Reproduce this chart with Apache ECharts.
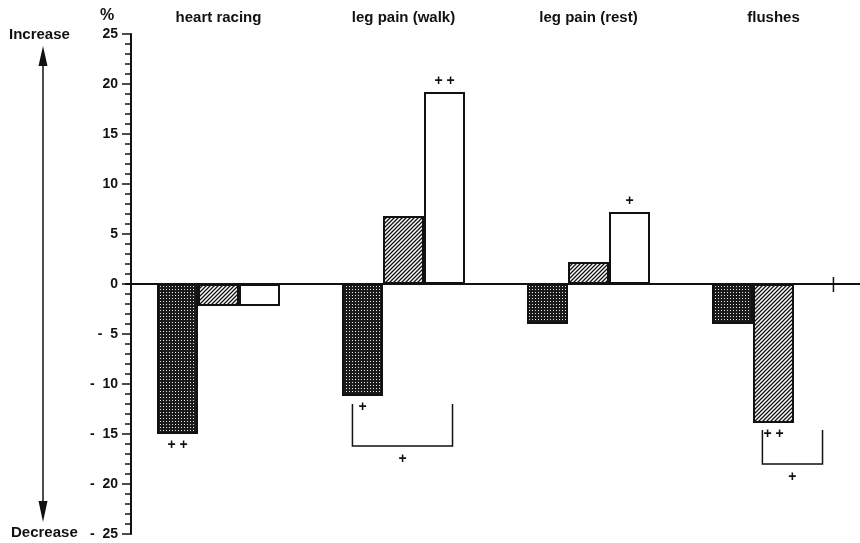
<!DOCTYPE html>
<html><head><meta charset="utf-8">
<script src="https://cdn.jsdelivr.net/npm/echarts@6/dist/echarts.min.js"></script>
<style>html,body{margin:0;padding:0;background:#fff}#c{width:860px;height:543px}</style>
</head><body><div id="c"></div>
<script>
const categories = ['heart racing', 'leg pain (walk)', 'leg pain (rest)', 'flushes'];
const dottedValues = [-15, -11.2, -4, -4];
const hatchedValues = [-2.2, 6.8, 2.2, -13.9];
const whiteValues = [-2.2, 19.2, 7.2, 0];
const dottedMarks = ['+ +', '+', '', ''];
const hatchedMarks = ['', '', '', '+ +'];
const whiteMarks = ['', '+ +', '+', ''];
const yTicks = [-25, -20, -15, -10, -5, 0, 5, 10, 15, 20, 25];
// brackets: [category, left (fraction of band), right (fraction of band), top value, bottom value, label]
const brackets = [[1, -0.276, 0.265, -12, -16.2, '+'], [3, -0.06, 0.265, -14.6, -18, '+']];
const zeroMarks = [[3, 0.324, 0]];

function makeDots() {
  const c = document.createElement('canvas'); c.width = 3; c.height = 3;
  const g = c.getContext('2d');
  g.fillStyle = '#1a1a1a'; g.fillRect(0, 0, 3, 3);
  g.fillStyle = '#e8e8e8'; g.fillRect(1, 1, 1, 1);
  return c;
}
function makeHatch() {
  const c = document.createElement('canvas'); c.width = 4; c.height = 4;
  const g = c.getContext('2d');
  g.fillStyle = '#fff'; g.fillRect(0, 0, 4, 4);
  g.strokeStyle = '#111'; g.lineWidth = 1.3;
  g.beginPath();
  g.moveTo(-1, 5); g.lineTo(5, -1);
  g.moveTo(-1, 1); g.lineTo(1, -1);
  g.moveTo(3, 5); g.lineTo(5, 3);
  g.stroke();
  return c;
}

const font = 'Liberation Sans';
function items(vals, marks) {
  return vals.map((v, i) => ({
    value: v,
    label: marks[i] ? { show: true, formatter: marks[i], position: v < 0 ? 'bottom' : 'top', distance: 4,
      color: '#111', fontWeight: 'bold', fontSize: 14, fontFamily: font } : { show: false }
  }));
}

const chart = echarts.init(document.getElementById('c'));
const barStyle = (fill) => ({ color: fill, borderColor: '#111', borderWidth: 2 });

chart.setOption({
  animation: false,
  grid: { left: 126, top: 34, bottom: 9, width: 740, outerBoundsMode: 'none', containLabel: false },
  xAxis: [
    { type: 'category', data: categories, position: 'bottom',
      axisLine: { onZero: true, lineStyle: { color: '#111', width: 2 } },
      axisTick: { show: false }, axisLabel: { show: false }, splitLine: { show: false } },
    { type: 'category', data: categories, position: 'top',
      axisLine: { show: false }, axisTick: { show: false },
      axisLabel: { show: true, margin: 9, color: '#111', fontWeight: 'bold', fontSize: 15, fontFamily: font } }
  ],
  yAxis: {
    type: 'value', min: -25, max: 25, interval: 5, offset: -5,
    axisLine: { show: true, lineStyle: { color: '#111', width: 2 } },
    axisTick: { show: true, inside: false, length: 9, lineStyle: { color: '#111', width: 1.5 } },
    minorTick: { show: true, splitNumber: 5, length: 6, lineStyle: { color: '#111', width: 1.5 } },
    splitLine: { show: false },
    axisLabel: { margin: 13, color: '#111', fontWeight: 'bold', fontSize: 14, fontFamily: font,
      formatter: v => yTicks.includes(v) ? (v < 0 ? '-  ' + Math.abs(v) : String(v)) : '' }
  },
  graphic: [
    { type: 'text', left: 100, top: 8, style: { text: '%', font: 'bold 16px Liberation Sans', fill: '#111' } },
    { type: 'text', left: 9, top: 27, style: { text: 'Increase', font: 'bold 15px Liberation Sans', fill: '#111' } },
    { type: 'text', left: 11, top: 525, style: { text: 'Decrease', font: 'bold 15px Liberation Sans', fill: '#111' } },
    { type: 'line', shape: { x1: 43, y1: 60, x2: 43, y2: 506 }, style: { stroke: '#111', lineWidth: 1.5 } },
    { type: 'polygon', shape: { points: [[43, 46], [38.5, 66], [47.5, 66]] }, style: { fill: '#111' } },
    { type: 'polygon', shape: { points: [[43, 522], [38.5, 501], [47.5, 501]] }, style: { fill: '#111' } }
  ],
  series: [
    { type: 'bar', name: 'dotted', data: items(dottedValues, dottedMarks), barWidth: 41, barGap: '0%',
      itemStyle: barStyle({ image: makeDots(), repeat: 'repeat' }) },
    { type: 'bar', name: 'hatched', data: items(hatchedValues, hatchedMarks), barWidth: 41, barGap: '0%',
      itemStyle: barStyle({ image: makeHatch(), repeat: 'repeat' }) },
    { type: 'bar', name: 'white', data: items(whiteValues, whiteMarks), barWidth: 41, barGap: '0%',
      itemStyle: barStyle('#fff') },
    { type: 'custom', data: brackets, z: 5,
      renderItem: function (params, api) {
        const cat = api.value(0);
        const band = api.size([1, 0])[0];
        const top = api.coord([cat, api.value(3)]);
        const bot = api.coord([cat, api.value(4)]);
        const xl = top[0] + api.value(1) * band, xr = top[0] + api.value(2) * band;
        return { type: 'group', children: [
          { type: 'polyline', shape: { points: [[xl, top[1]], [xl, bot[1]], [xr, bot[1]], [xr, top[1]]] },
            style: { stroke: '#111', lineWidth: 1.5, fill: null } },
          { type: 'text', style: { text: brackets[params.dataIndex][5], x: (xl + xr) / 2, y: bot[1] + 13,
            align: 'center', verticalAlign: 'middle', font: 'bold 14px Liberation Sans', fill: '#111' } }
        ] };
      } },
    { type: 'custom', data: zeroMarks, z: 5,
      renderItem: function (params, api) {
        const cat = api.value(0);
        const band = api.size([1, 0])[0];
        const p = api.coord([cat, api.value(2)]);
        const x = p[0] + api.value(1) * band;
        return { type: 'line', shape: { x1: x, y1: p[1] - 7, x2: x, y2: p[1] + 8 }, style: { stroke: '#111', lineWidth: 1.5 } };
      } }
  ]
});
</script></body></html>
